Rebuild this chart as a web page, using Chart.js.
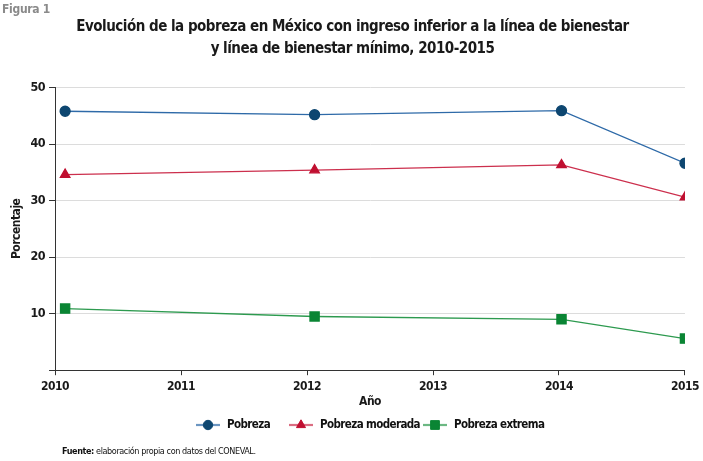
<!DOCTYPE html>
<html><head><meta charset="utf-8">
<script src="https://cdn.jsdelivr.net/npm/chart.js@4/dist/chart.umd.min.js"></script>
<style>
html,body{margin:0;padding:0;background:#fff;}
#wrap{position:relative;width:703px;height:461px;}
canvas{position:absolute;left:0;top:0;}
#fig{position:absolute;left:2px;top:2px;font:bold 12px "DejaVu Sans Condensed",sans-serif;letter-spacing:-0.3px;color:#8a8a8a;}
#src{position:absolute;left:62px;top:446px;font:9px "DejaVu Sans Condensed",sans-serif;letter-spacing:-0.4px;color:#111;}
</style></head>
<body><div id="wrap"><canvas id="c" width="703" height="461"></canvas>
<div id="fig">Figura 1</div>
<div id="src"><b>Fuente:</b> elaboración propia con datos del CONEVAL.</div></div>
<script>
const years = [2010.08, 2012.06, 2014.02, 2015];
const pobreza = [45.8, 45.2, 45.9, 36.6];
const pobrezaModerada = [34.6, 35.4, 36.3, 30.6];
const pobrezaExtrema = [10.9, 9.5, 9.0, 5.6];
const seriesNames = ["Pobreza", "Pobreza moderada", "Pobreza extrema"];
const xTicks = [2010, 2011, 2012, 2013, 2014, 2015];
const yTicks = [10, 20, 30, 40, 50];

const FONT = '"DejaVu Sans Condensed",sans-serif';
const toPts = arr => arr.map((v,i)=>({x:years[i], y:v}));

const spacingPlugin = {
  id:'spacing',
  beforeUpdate(chart){ chart.ctx.letterSpacing='-0.5px'; },
  beforeDraw(chart){ chart.ctx.letterSpacing='-0.5px'; }
};

const legendPlugin = {
  id:'lineLegend',
  afterDraw(chart){
    const ctx = chart.ctx;
    const items = [{x:196},{x:289},{x:423}];
    const y = 425;
    chart.data.datasets.forEach((ds,i)=>{
      const x0 = items[i].x;
      ctx.save();
      ctx.strokeStyle = ds.borderColor; ctx.lineWidth = 2.2; ctx.globalAlpha = 0.7;
      ctx.beginPath(); ctx.moveTo(x0,y); ctx.lineTo(x0+24,y); ctx.stroke();
      ctx.globalAlpha = 1;
      ctx.fillStyle = ds.pointBackgroundColor; ctx.strokeStyle = ds.pointBorderColor;ctx.lineWidth=1;
      Chart.helpers.drawPoint(ctx,{pointStyle:ds.pointStyle,radius:ds.pointRadius-0.3,rotation:0,borderWidth:1},x0+12,y);
      ctx.fillStyle='#111'; ctx.font='bold 11.5px '+FONT; ctx.textBaseline='middle';
      ctx.letterSpacing='-0.6px';
      ctx.fillText(ds.label, x0+31, y+0.5);
      ctx.restore();
    });
  }
};

new Chart(document.getElementById('c'),{
  type:'line',
  data:{datasets:[
    {label:seriesNames[0],data:toPts(pobreza),borderColor:'#2e6aa8',pointBackgroundColor:'#0d4670',pointBorderColor:'#0d4670',pointStyle:'circle',pointRadius:5,borderWidth:1.3},
    {label:seriesNames[1],data:toPts(pobrezaModerada),borderColor:'#cc2f4d',pointBackgroundColor:'#c00f30',pointBorderColor:'#c00f30',pointStyle:'triangle',pointRadius:5.5,borderWidth:1.3},
    {label:seriesNames[2],data:toPts(pobrezaExtrema),borderColor:'#2d9a4f',pointBackgroundColor:'#0a8534',pointBorderColor:'#0a8534',pointStyle:'rect',pointRadius:6.5,borderWidth:1.3}
  ]},
  options:{
    responsive:false,animation:false,
    layout:{padding:{left:6,right:4,top:4,bottom:49}},
    plugins:{
      legend:{display:false},tooltip:{enabled:false},
      title:{display:true,text:['Evolución de la pobreza en México con ingreso inferior a la línea de bienestar','y línea de bienestar mínimo, 2010-2015'],
        font:{family:FONT,size:15,weight:'bold',lineHeight:1.45},color:'#1a1a1a',padding:{top:12,bottom:28}}
    },
    scales:{
      x:{type:'linear',min:2010,max:2015,
        afterBuildTicks:s=>{s.ticks=xTicks.map(v=>({value:v}));},
        ticks:{callback:v=>String(v),font:{family:FONT,size:12,weight:'bold'},color:'#1a1a1a',padding:4,maxRotation:0},
        grid:{display:true,drawOnChartArea:false,tickColor:'#333',tickLength:5},
        border:{display:true,color:'#333',width:1},
        title:{display:true,text:'Año',font:{family:FONT,size:12,weight:'bold'},color:'#1a1a1a',padding:{top:-3,bottom:3}}
      },
      y:{min:0,max:50,
        afterBuildTicks:s=>{s.ticks=[0].concat(yTicks).map(v=>({value:v}));},
        ticks:{callback:v=>v===0?'':String(v),font:{family:FONT,size:12.5,weight:'bold'},color:'#1a1a1a',padding:4},
        grid:{color:'#dcdcdc',tickColor:'#333',tickLength:6,lineWidth:1},
        border:{display:true,color:'#333',width:1},
        title:{display:true,text:'Porcentaje',font:{family:FONT,size:12,weight:'bold'},color:'#1a1a1a',padding:{bottom:2}}
      }
    }
  },
  plugins:[spacingPlugin,legendPlugin]
});
</script></body></html>
